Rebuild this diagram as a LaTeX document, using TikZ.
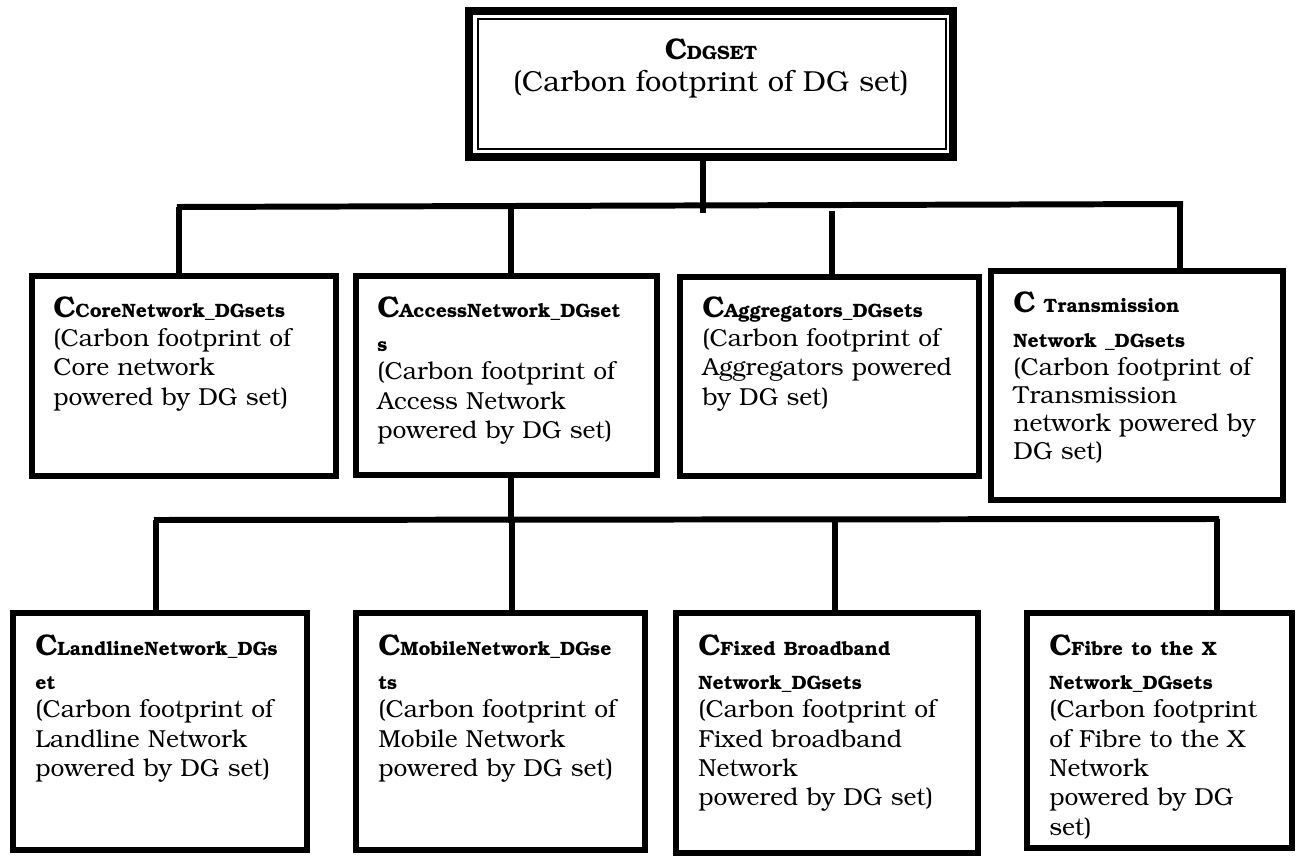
\documentclass[tikz,border=0pt]{standalone}
\usepackage[T1]{fontenc}
\usepackage{bookman}
\usepackage{tikz}
\usetikzlibrary{calc}
\newcommand{\cbig}{{\fontsize{17}{17}\selectfont\bfseries C}}
\newcommand{\csub}[1]{{\fontsize{11}{11}\selectfont\bfseries #1}}
\tikzset{
	cbox/.style={draw=black, line width=3.4pt, inner sep=0pt, outer sep=0pt, anchor=north west},
	ctext/.style={anchor=base west, inner sep=0pt, text width=6cm, align=left, font=\fontsize{14}{16.7}\selectfont},
	link/.style={line width=3.4pt}
}

\begin{document}
\begin{tikzpicture}[x=0.02cm, y=-0.02cm]
			%%%%% START %%%%%
			\useasboundingbox (0,0) rectangle (1299,858);
			
			% top box, double frame
			\node[cbox, line width=4.5pt, minimum width=9.68cm, minimum height=2.92cm] (top) at (469,11) {};
			\draw[line width=1.1pt] ([shift={(9,8)}]top.north west) rectangle ([shift={(-7,-8)}]top.south east);
			\node[anchor=base, inner sep=0pt, text width=9cm, align=center, font=\fontsize{16.5}{18.1}\selectfont] (top-t) at (711,60) {\cbig\csub{DGSET}\\(Carbon footprint of DG set)};
			
			% second row
			\node[cbox, minimum width=6.08cm, minimum height=4.00cm] (core) at (32,276) {};
			\node[cbox, minimum width=6.02cm, minimum height=3.98cm] (access) at (356,276) {};
			\node[cbox, minimum width=5.98cm, minimum height=3.98cm] (aggr) at (680,277) {};
			\node[cbox, minimum width=5.84cm, minimum height=4.58cm] (trans) at (991,271) {};
			
			\node[ctext] (core-t) at (53,317) {\cbig\csub{CoreNetwork\_DGsets}\\(Carbon footprint of\\Core network\\powered by DG set)};
			\node[ctext] (access-t) at (377,317) {\cbig\csub{AccessNetwork\_DGset}\\[3.1pt]\csub{s}\\[-0.8pt](Carbon footprint of\\Access Network\\powered by DG set)};
			\node[ctext] (aggr-t) at (702,317) {\cbig\csub{Aggregators\_DGsets}\\(Carbon footprint of\\Aggregators powered\\by DG set)};
			\node[ctext] (trans-t) at (1013,313) {\cbig\ \csub{Transmission}\\[3.1pt]\csub{Network \_DGsets}\\[-1.2pt](Carbon footprint of\\[-0.6pt]Transmission\\[-0.6pt]network powered by\\[-0.6pt]DG set)};
			
			% third row
			\node[cbox, minimum width=5.88cm, minimum height=4.74cm] (land) at (13,613) {};
			\node[cbox, minimum width=5.78cm, minimum height=4.74cm] (mobile) at (356,613) {};
			\node[cbox, minimum width=6.04cm, minimum height=4.80cm] (fixed) at (676,613) {};
			\node[cbox, minimum width=5.30cm, minimum height=4.70cm] (fibre) at (1027,613) {};
			
			\node[ctext] (land-t) at (35,655) {\cbig\csub{LandlineNetwork\_DGs}\\[3.1pt]\csub{et}\\[-0.8pt](Carbon footprint of\\Landline Network\\powered by DG set)};
			\node[ctext] (mobile-t) at (378,655) {\cbig\csub{MobileNetwork\_DGse}\\[3.1pt]\csub{ts}\\[-0.8pt](Carbon footprint of\\Mobile Network\\powered by DG set)};
			\node[ctext] (fixed-t) at (698,655) {\cbig\csub{Fixed Broadband}\\[3.1pt]\csub{Network\_DGsets}\\[-0.8pt](Carbon footprint of\\Fixed broadband\\Network\\powered by DG set)};
			\node[ctext] (fibre-t) at (1049,655) {\cbig\csub{Fibre to the X}\\[3.1pt]\csub{Network\_DGsets}\\[-0.8pt](Carbon footprint\\of Fibre to the X\\Network\\powered by DG\\set)};
			
			% upper tree
			\coordinate (j-top) at (703,213);
			\coordinate (bus-l) at (177,207);
			\coordinate (bus-r) at (1183,204);
			\coordinate (d1) at (179,207);
			\coordinate (d2) at (511,206);
			\coordinate (d3) at (832,211);
			\coordinate (d4) at (1180,204);
			\draw[link] (j-top |- top.south) -- (j-top);
			\draw[link] (bus-l) -- (bus-r);
			\draw[link] (d1) -- (d1 |- core.north);
			\draw[link] (d2) -- (d2 |- access.north);
			\draw[link] (d3) -- (d3 |- aggr.north);
			\draw[link] (d4) -- (d4 |- trans.north);
			
			% lower tree
			\coordinate (j-acc) at (511,523);
			\coordinate (low-l) at (154,520);
			\coordinate (low-r) at (1219,519);
			\coordinate (e1) at (156,520);
			\coordinate (e2) at (512,520);
			\coordinate (e3) at (835,520);
			\coordinate (e4) at (1217,519);
			\draw[link] (j-acc |- access.south) -- (j-acc);
			\draw[link] (low-l) -- (low-r);
			\draw[link] (e1) -- (e1 |- land.north);
			\draw[link] (e2) -- (e2 |- mobile.north);
			\draw[link] (e3) -- (e3 |- fixed.north);
			\draw[link] (e4) -- (e4 |- fibre.north);
			%%%%% END %%%%%
\end{tikzpicture}
\end{document}
